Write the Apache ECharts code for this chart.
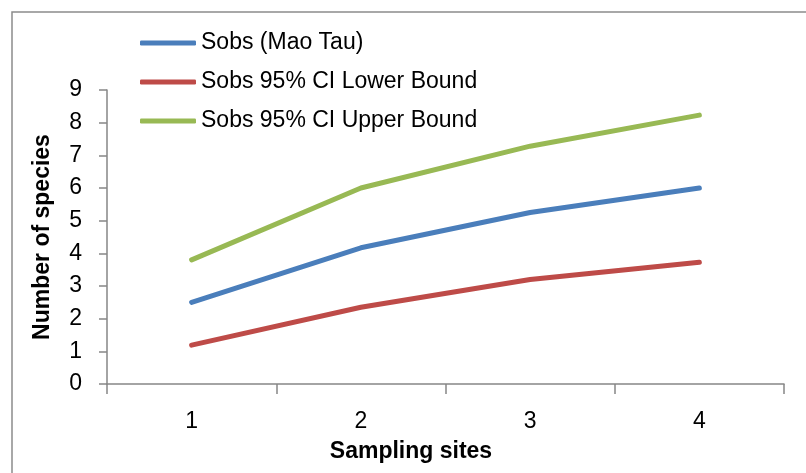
<!DOCTYPE html>
<html><head><meta charset="utf-8">
<script src="https://cdn.jsdelivr.net/npm/echarts@6/dist/echarts.min.js"></script>
<style>html,body{margin:0;padding:0;background:#fff}#c{width:806px;height:473px}</style>
</head><body><div id="c"></div>
<script>
const categories = ['1', '2', '3', '4'];
const sobs = [2.5, 4.17, 5.25, 6.0];
const lowerBound = [1.19, 2.35, 3.2, 3.73];
const upperBound = [3.8, 6.0, 7.28, 8.23];
const seriesNames = ['Sobs (Mao Tau)', 'Sobs 95% CI Lower Bound', 'Sobs 95% CI Upper Bound'];
const colors = ['#4A7EBB', '#BE4B48', '#98B954'];
const FONT = '"Liberation Sans", Arial, sans-serif';

const chart = echarts.init(document.getElementById('c'), null, {renderer: 'canvas'});
const mk = (name, data, color) => ({
  name, type: 'line', data, symbol: 'none', smooth: false,
  lineStyle: {color, width: 5, cap: 'round', join: 'round'},
  itemStyle: {color}
});
chart.setOption({
  animation: false,
  color: colors,
  textStyle: {fontFamily: FONT},
  graphic: [
    {type: 'rect', shape: {x: 12, y: 12, width: 820, height: 490}, style: {fill: 'none', stroke: '#8c8c8c', lineWidth: 1.5}, silent: true},
    {type: 'text', x: 411, y: 452, style: {text: 'Sampling sites', font: 'bold 23px ' + FONT, fill: '#000', align: 'center', verticalAlign: 'middle'}}
  ],
  legend: {
    orient: 'vertical', left: 135, top: 26,
    icon: 'roundRect', itemWidth: 56, itemHeight: 5, itemGap: 15,
    textStyle: {fontSize: 23, color: '#000', fontFamily: FONT, lineHeight: 24},
    data: seriesNames
  },
  grid: {left: 107, right: 22, top: 90, bottom: 89, containLabel: false},
  xAxis: {
    type: 'category', data: categories, boundaryGap: true,
    axisLine: {lineStyle: {color: '#868686', width: 1.5}},
    axisTick: {show: true, length: 10, inside: false, lineStyle: {color: '#868686', width: 1.5}},
    axisLabel: {fontSize: 23, color: '#000', margin: 26, fontFamily: FONT},
    splitLine: {show: false}
  },
  yAxis: {
    type: 'value', min: 0, max: 9, interval: 1,
    name: 'Number of species', nameLocation: 'middle', nameGap: 53,
    nameTextStyle: {fontSize: 23, fontWeight: 'bold', color: '#000', fontFamily: FONT},
    axisLine: {show: true, lineStyle: {color: '#868686', width: 1.5}},
    axisTick: {show: true, length: 8, lineStyle: {color: '#868686', width: 1.5}},
    axisLabel: {fontSize: 23, color: '#000', margin: 25, fontFamily: FONT},
    splitLine: {show: false}
  },
  series: [
    mk(seriesNames[0], sobs, colors[0]),
    mk(seriesNames[1], lowerBound, colors[1]),
    mk(seriesNames[2], upperBound, colors[2])
  ]
});
</script></body></html>
